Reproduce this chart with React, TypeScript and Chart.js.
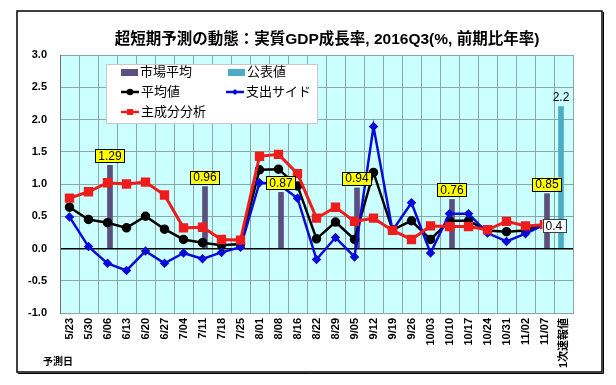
import React, { useEffect, useRef } from "react";
import { Chart, registerables } from "chart.js";
Chart.register(...registerables);

const FONT = '"Liberation Sans", "Noto Sans CJK JP", sans-serif';

const categories = ["5/23","5/30","6/06","6/13","6/20","6/27","7/04","7/11","7/18","7/25","8/01","8/08","8/16","8/22","8/29","9/05","9/12","9/19","9/26","10/03","10/10","10/17","10/24","10/31","11/02","11/07","1次速報値"];
const marketAvg = [null,null,1.29,null,null,null,null,0.96,null,null,null,0.87,null,null,null,0.94,null,null,null,null,0.76,null,null,null,null,0.85,null];
const official = [null,null,null,null,null,null,null,null,null,null,null,null,null,null,null,null,null,null,null,null,null,null,null,null,null,null,2.2];
const average = [0.64,0.45,0.40,0.32,0.50,0.30,0.14,0.09,0.05,0.07,1.22,1.23,0.97,0.15,0.41,0.14,1.18,0.29,0.43,0.14,0.43,0.43,0.28,0.26,0.28,0.38,null];
const expenditure = [0.49,0.03,-0.23,-0.34,-0.04,-0.23,-0.07,-0.16,-0.06,0.02,1.02,1.00,0.78,-0.17,0.17,-0.13,1.89,0.28,0.71,-0.07,0.54,0.54,0.24,0.11,0.23,0.37,null];
const principal = [0.78,0.88,1.02,1.00,1.03,0.83,0.32,0.33,0.14,0.13,1.43,1.46,1.16,0.47,0.64,0.42,0.47,0.28,0.14,0.35,0.34,0.34,0.29,0.42,0.35,0.37,null];
const yMin = -1.0;
const yMax = 3.0;
const yStep = 0.5;

const TITLE = "超短期予測の動態：実質GDP成長率, 2016Q3(%, 前期比年率)";
const XAXIS_NOTE = "予測日";

const C_MARKET = "#5b4f7d";
const C_OFFICIAL = "#4bacc6";
const C_AVG = "#000000";
const C_EXP = "#0a0ad8";
const C_PCA = "#ee1c1c";

const decor = {
  id: "decor",
  beforeDraw(chart: any) {
    const { ctx, chartArea: a } = chart;
    ctx.save();
    ctx.fillStyle = "#ffffff";
    ctx.fillRect(0, 0, chart.width, chart.height);
    ctx.fillStyle = "#ccffff";
    ctx.fillRect(a.left, a.top, a.right - a.left, a.bottom - a.top);
    ctx.restore();
  },
  afterDatasetsDraw(chart: any) {
    const { ctx } = chart;
    const y = chart.scales.y;
    ctx.save();
    const mMeta = chart.getDatasetMeta(0);
    ctx.font = `12px ${FONT}`;
    ctx.textAlign = "center";
    ctx.textBaseline = "middle";
    marketAvg.forEach((v, i) => {
      if (v == null) return;
      const el = mMeta.data[i];
      const txt = v.toFixed(2);
      const w = ctx.measureText(txt).width + 6;
      const h = 13;
      const top = y.getPixelForValue(v) - 3 - h;
      ctx.fillStyle = "#ffff00";
      ctx.fillRect(el.x - w / 2, top, w, h);
      ctx.strokeStyle = "#000";
      ctx.lineWidth = 1;
      ctx.strokeRect(Math.round(el.x - w / 2) + 0.5, Math.round(top) + 0.5, Math.round(w), h);
      ctx.fillStyle = "#000";
      ctx.fillText(txt, el.x, top + h / 2 + 0.5);
    });
    const oMeta = chart.getDatasetMeta(1);
    official.forEach((v, i) => {
      if (v == null) return;
      const el = oMeta.data[i];
      ctx.fillStyle = "#000";
      ctx.textBaseline = "bottom";
      ctx.fillText(v.toFixed(1), el.x, y.getPixelForValue(v) - 3);
    });
    const aMeta = chart.getDatasetMeta(2);
    const li = 25;
    const el = aMeta.data[li];
    const txt = (average[li] as number).toFixed(1);
    const w = ctx.measureText(txt).width + 6;
    const h = 13;
    const left = el.x - 2;
    const top = el.y - h / 2 + 2;
    ctx.fillStyle = "#ffffff";
    ctx.fillRect(left, top, w, h);
    ctx.strokeStyle = "#404040";
    ctx.strokeRect(Math.round(left) + 0.5, Math.round(top) + 0.5, Math.round(w), h);
    ctx.fillStyle = "#000";
    ctx.textBaseline = "middle";
    ctx.fillText(txt, left + w / 2, top + h / 2 + 0.5);
    ctx.restore();
  },
  afterDraw(chart: any) {
    const { ctx } = chart;
    ctx.save();
    ctx.strokeStyle = "#000";
    ctx.lineWidth = 1.5;
    ctx.strokeRect(17, 11, 585, 361);
    ctx.lineWidth = 1;
    ctx.beginPath();
    ctx.moveTo(603.5, 12);
    ctx.lineTo(603.5, 373.5);
    ctx.lineTo(18, 373.5);
    ctx.stroke();
    ctx.fillStyle = "#000";
    ctx.font = `bold 15.5px ${FONT}`;
    ctx.textAlign = "center";
    ctx.textBaseline = "middle";
    ctx.fillText(TITLE, 327, 40);
    ctx.font = `bold 10px ${FONT}`;
    ctx.textAlign = "left";
    ctx.fillText(XAXIS_NOTE, 43, 362);
    const lx = 106, ly = 64, lw = 211, lh = 59;
    ctx.fillStyle = "#ffffff";
    ctx.fillRect(lx, ly, lw, lh);
    ctx.strokeStyle = "#c8c8c8";
    ctx.lineWidth = 1;
    ctx.strokeRect(lx + 0.5, ly + 0.5, lw, lh);
    ctx.font = `13px ${FONT}`;
    ctx.textBaseline = "middle";
    const rows = [72, 92, 112];
    const barSw = (x: number, yy: number, c: string, t: string) => {
      ctx.fillStyle = c;
      ctx.fillRect(x, yy - 3, 17, 7);
      ctx.fillStyle = "#000";
      ctx.fillText(t, x + 19, yy);
    };
    const lineSw = (x: number, yy: number, c: string, t: string, shape: string) => {
      ctx.strokeStyle = c;
      ctx.lineWidth = 2.5;
      ctx.beginPath();
      ctx.moveTo(x, yy);
      ctx.lineTo(x + 18, yy);
      ctx.stroke();
      ctx.fillStyle = c;
      const cx = x + 9;
      ctx.beginPath();
      if (shape === "circle") ctx.arc(cx, yy, 3.3, 0, Math.PI * 2);
      else if (shape === "rect") ctx.rect(cx - 3, yy - 3, 6, 6);
      else {
        ctx.moveTo(cx, yy - 3);
        ctx.lineTo(cx + 3, yy);
        ctx.lineTo(cx, yy + 3);
        ctx.lineTo(cx - 3, yy);
        ctx.closePath();
      }
      ctx.fill();
      ctx.fillStyle = "#000";
      ctx.fillText(t, x + 20, yy);
    };
    barSw(121, rows[0], C_MARKET, "市場平均");
    barSw(228, rows[0], C_OFFICIAL, "公表値");
    lineSw(121, rows[1], C_AVG, "平均値", "circle");
    lineSw(226, rows[1], C_EXP, "支出サイド", "diamond");
    lineSw(121, rows[2], C_PCA, "主成分分析", "rect");
    ctx.restore();
  },
};

export default function App() {
  const ref = useRef<HTMLCanvasElement | null>(null);
  useEffect(() => {
    if (!ref.current) return;
    const chart = new Chart(ref.current, {
      type: "bar",
      data: {
        labels: categories,
        datasets: [
          { type: "bar", label: "市場平均", data: marketAvg as any, backgroundColor: C_MARKET, barThickness: 5, order: 5 },
          { type: "bar", label: "公表値", data: official as any, backgroundColor: C_OFFICIAL, barThickness: 5, order: 4 },
          { type: "line", label: "平均値", data: average as any, borderColor: C_AVG, backgroundColor: C_AVG, borderWidth: 2.5, pointStyle: "circle", pointRadius: 3.5, tension: 0, order: 3 },
          { type: "line", label: "支出サイド", data: expenditure as any, borderColor: C_EXP, backgroundColor: C_EXP, borderWidth: 2.5, pointStyle: "rectRot", pointRadius: 3, tension: 0, order: 2 },
          { type: "line", label: "主成分分析", data: principal as any, borderColor: C_PCA, backgroundColor: C_PCA, borderWidth: 3, pointStyle: "rect", pointRadius: 4.5, tension: 0, order: 1 },
        ] as any,
      },
      options: {
        responsive: false,
        animation: false,
        devicePixelRatio: 1,
        layout: { padding: { left: 0, top: 55, right: 43, bottom: 0 } },
        plugins: { legend: { display: false }, title: { display: false }, tooltip: { enabled: false } },
        scales: {
          x: {
            offset: true,
            grid: { offset: true, color: "#88a8a8", lineWidth: 1, drawTicks: false },
            border: { color: "#88a8a8" },
            ticks: {
              autoSkip: false,
              maxRotation: 90,
              minRotation: 90,
              padding: 5,
              color: "#000",
              font: { family: FONT, size: 11, weight: "bold" },
            },
            afterFit: (s: any) => { s.height = 72; },
          },
          y: {
            min: yMin,
            max: yMax,
            grid: {
              drawTicks: false,
              color: (c: any) => (c.tick && c.tick.value === 0 ? "#000" : "#88a8a8"),
              lineWidth: (c: any) => (c.tick && c.tick.value === 0 ? 1.5 : 1),
            },
            border: { color: "#707070" },
            ticks: {
              stepSize: yStep,
              padding: 13,
              color: "#000",
              font: { family: FONT, size: 11, weight: "bold" },
              callback: (v: any) => Number(v).toFixed(1),
            },
            afterFit: (s: any) => { s.width = 60; },
          },
        },
      },
      plugins: [decor],
    } as any);
    return () => chart.destroy();
  }, []);
  return (
    <div style={{ position: "fixed", left: 0, top: 0, width: 616, height: 385, background: "#fff" }}>
      <canvas ref={ref} width={616} height={385} style={{ width: 616, height: 385, display: "block" }} />
    </div>
  );
}
